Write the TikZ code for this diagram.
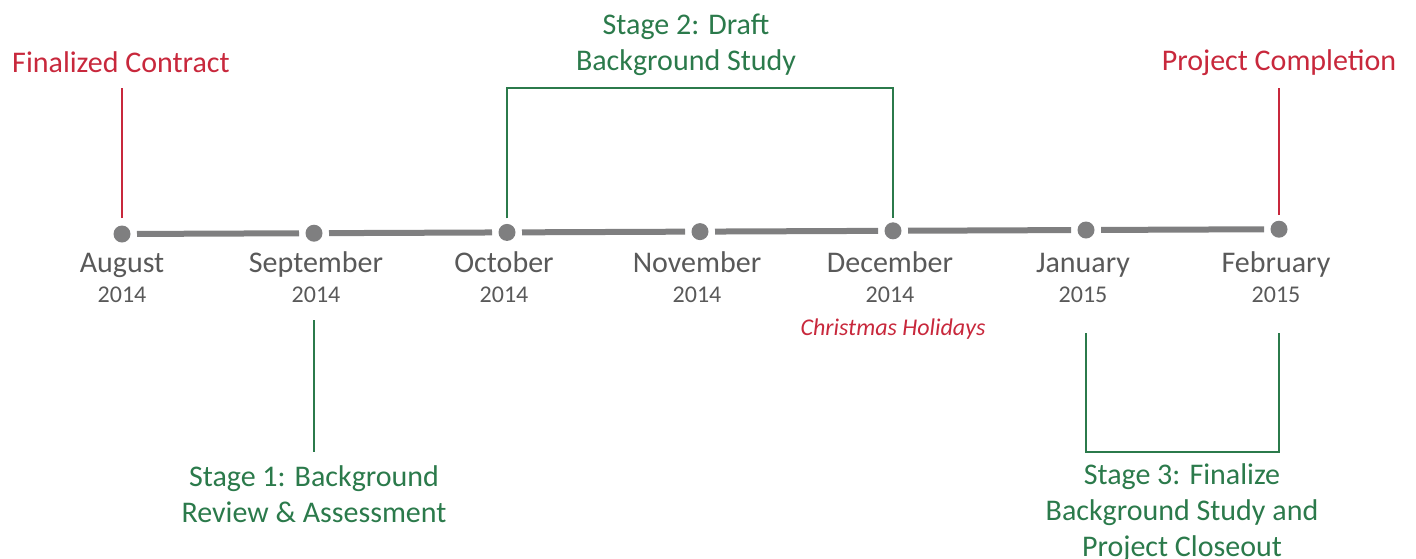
\documentclass[tikz,border=0pt]{standalone}
\usepackage{fontspec}
\setmainfont{Carlito}
\usetikzlibrary{calc}
\definecolor{tlred}{HTML}{C8283C}
\definecolor{tlgreen}{HTML}{2B7A4B}
\definecolor{tlgray}{HTML}{7F7F80}
\definecolor{txtgray}{HTML}{595959}
\begin{document}
\begin{tikzpicture}[x=1pt,y=-1pt,
  dot/.style={circle,fill=tlgray,inner sep=0pt,minimum size=17pt,outer sep=6.5pt},
  seg/.style={draw=tlgray,line width=6pt},
  month/.style={anchor=base,inner sep=0pt,text=txtgray,font=\fontsize{30}{36}\selectfont},
  year/.style={anchor=base,inner sep=0pt,text=txtgray,font=\fontsize{24}{28}\selectfont},
  redlbl/.style={anchor=base,inner sep=0pt,text=tlred,font=\fontsize{30}{36}\selectfont},
  greenlbl/.style={anchor=base,inner sep=0pt,text=tlgreen,align=center,font=\fontsize{30}{36}\selectfont},
  redline/.style={draw=tlred,line width=2pt},
  greenline/.style={draw=tlgreen,line width=2pt}]
\useasboundingbox (0,0) rectangle (1416,558);
% dots
\node[dot] (aug) at (122,234) {};
\node[dot] (sep) at (314,233.2) {};
\node[dot] (oct) at (507,232.4) {};
\node[dot] (nov) at (700,231.6) {};
\node[dot] (dec) at (893,230.8) {};
\node[dot] (jan) at (1086,230) {};
\node[dot] (feb) at (1279,229.2) {};
\draw[seg] (aug) -- (sep);
\draw[seg] (sep) -- (oct);
\draw[seg] (oct) -- (nov);
\draw[seg] (nov) -- (dec);
\draw[seg] (dec) -- (jan);
\draw[seg] (jan) -- (feb);
% month labels
\node[month] (maug) at (122,272) {August};
\node[month] (msep) at (316,272) {September};
\node[month] (moct) at (504,272) {October};
\node[month] (mnov) at (697,272) {November};
\node[month] (mdec) at (890,272) {December};
\node[month] (mjan) at (1083,272) {January};
\node[month] (mfeb) at (1276,272) {February};
\node[year] (yaug) at (122,302) {2014};
\node[year] (ysep) at (316,302) {2014};
\node[year] (yoct) at (504,302) {2014};
\node[year] (ynov) at (697,302) {2014};
\node[year] (ydec) at (890,302) {2014};
\node[year] (yjan) at (1083,302) {2015};
\node[year] (yfeb) at (1276,302) {2015};
\node[anchor=base,inner sep=0pt,text=tlred,font=\fontsize{24}{28}\selectfont\itshape] (xmas) at (893,335) {Christmas Holidays};
% red milestones
\node[redlbl] (fc) at (121,72) {Finalized Contract};
\node[redlbl] (pc) at (1279,70) {Project Completion};
\coordinate (fctop) at (122,88);
\coordinate (pctop) at (1279,88);
\draw[redline, shorten <=16pt] (aug.center) -- (fctop);
\draw[redline, shorten <=14pt] (feb.center) -- (pctop);
% stage 2
\node[greenlbl] (s2) at (686,70) {Stage 2: Draft\\Background Study};
\coordinate (s2a) at (507,88);
\coordinate (s2b) at (893,88);
\draw[greenline, shorten <=14pt, shorten >=13pt] (oct.center) -- (s2a) -- (s2b) -- (dec.center);
% stage 1
\node[greenlbl] (s1) at (314,522) {Stage 1: Background\\Review \& Assessment};
\coordinate (s1a) at (314,320);
\coordinate (s1b) at (314,452);
\draw[greenline] (s1a) -- (s1b);
% stage 3
\node[greenlbl] (s3) at (1182,556) {Stage 3: Finalize\\Background Study and\\Project Closeout};
\coordinate (s3a) at (1086,333);
\coordinate (s3b) at (1086,452);
\coordinate (s3c) at (1279,452);
\coordinate (s3d) at (1279,333);
\draw[greenline] (s3a) -- (s3b) -- (s3c) -- (s3d);
\end{tikzpicture}
\end{document}
